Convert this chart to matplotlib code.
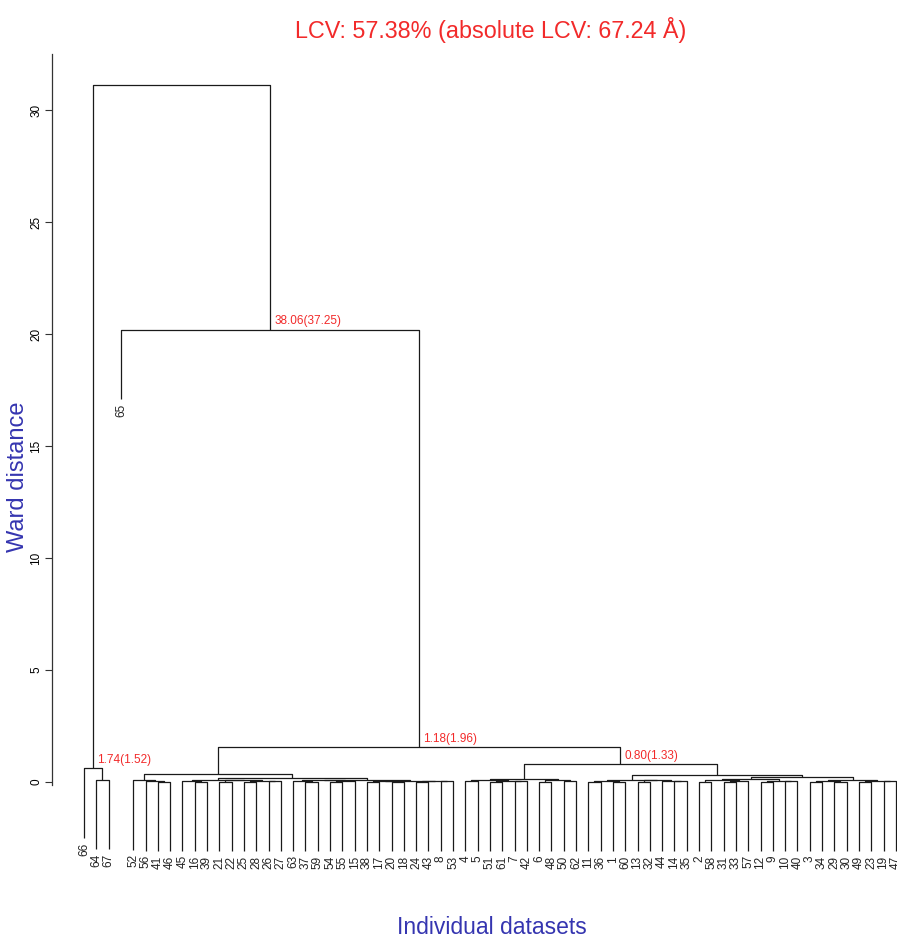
"""Ward dendrogram of 67 individual datasets (LCV annotation), redrawn R plot.hclust style."""
import numpy as np
import matplotlib; matplotlib.use("Agg"); import matplotlib.pyplot as plt

plt.rcParams["font.family"] = ["Liberation Sans", "DejaVu Sans"]

# leaf order along the x axis (dataset numbers)
LEAF_ORDER = [66, 64, 67, 65, 52, 56, 41, 46, 45, 16, 39, 21, 22, 25, 28, 26, 27,
              63, 37, 59, 54, 55, 15, 38, 17, 20, 18, 24, 43, 8, 53,
              4, 5, 51, 61, 7, 42, 6, 48, 50, 62,
              11, 36, 1, 60, 13, 32, 44, 14, 35,
              2, 58, 31, 33, 57, 12, 9, 10, 40, 3, 34, 29, 30, 49, 23, 19, 47]

# R-style merge table: negative = leaf (dataset), positive = earlier merge row (1-based)
MERGE_LEFT = [-64, -66, -41, -56, -52, -16, -45, -21, -25, -26, 9, 8, 7,
              -37, -63, -54, 16, 15, -38, -20, 19, -24, -8, 22, 21, 18, 13, 5,
              -4, -51, -7, 30, 29, -6, -50, 34, 33,
              -11, -1, 38, -13, -14, -44, 41, 40,
              -2, -31, 47, 46, -12, -10, 50, -3, -29, 53, -49, -19, 56, 49, 55, 59,
              45, 37, 28, -65, 2]
MERGE_RIGHT = [-67, 1, -46, 3, 4, -39, 6, -22, -28, -27, 10, 11, 12,
               -59, 14, -55, -15, 17, -17, -18, 20, -43, -53, 23, 24, 25, 26, 27,
               -5, -61, -42, 31, 32, -48, -62, 35, 36,
               -36, -60, 39, -32, -35, 42, 43, 44,
               -58, -33, -57, 48, -9, -40, 51, -34, -30, 54, -23, -47, 57, 52, 58, 60,
               61, 62, 63, 64, 65]
MERGE_HEIGHT = [0.10, 0.62, 0.02, 0.04, 0.09, 0.02, 0.04, 0.01, 0.02, 0.03, 0.05, 0.07, 0.09,
                0.02, 0.04, 0.01, 0.03, 0.07, 0.01, 0.02, 0.04, 0.02, 0.03, 0.05, 0.06, 0.10, 0.16, 0.36,
                0.03, 0.02, 0.03, 0.06, 0.09, 0.02, 0.03, 0.07, 0.15,
                0.02, 0.01, 0.05, 0.02, 0.03, 0.05, 0.07, 0.10,
                0.02, 0.01, 0.04, 0.07, 0.02, 0.03, 0.06, 0.02, 0.01, 0.05, 0.02, 0.03, 0.05, 0.12, 0.09, 0.22,
                0.30, 0.80, 1.56, 20.2, 31.1]

# red annotations on selected merges (row -> text)
NOTE_ROWS = [2, 65, 64, 63]
NOTE_TEXT = ["1.74(1.52)", "38.06(37.25)", "1.18(1.96)", "0.80(1.33)"]

TITLE = "LCV: 57.38% (absolute LCV: 67.24 Å)"
YTICKS = [0, 5, 10, 15, 20, 25, 30]
HANG = 0.1 * max(MERGE_HEIGHT)
BLUE = "#3535b0"; RED = "#f22a2a"; INK = "#1a1a1a"


def main():
    W, H = 897, 940
    fig = plt.figure(figsize=(W / 100, H / 100), dpi=100)
    # axes placed so leaf i sits at 84 + (i-1)*12.3 px and height 0 at y=782 px
    x0, x1 = 1 + (52 - 84) / 12.3, 1 + (897 - 84) / 12.3
    y0, y1 = -6.0, 33.0
    top_px, bot_px = 782 - 22.4 * y1, 782 - 22.4 * y0
    ax = fig.add_axes([52 / W, (H - bot_px) / H, (897 - 52) / W, (bot_px - top_px) / H])
    ax.set_xlim(x0, x1); ax.set_ylim(y0, y1)

    pos = {leaf: i + 1 for i, leaf in enumerate(LEAF_ORDER)}
    nx, nh = {}, {}
    for k, (a, b, h) in enumerate(zip(MERGE_LEFT, MERGE_RIGHT, MERGE_HEIGHT), start=1):
        xs, bottoms = [], []
        for c in (a, b):
            if c < 0:
                xs.append(pos[-c]); bottoms.append(h - HANG)
                ax.text(pos[-c], h - HANG - 0.2, str(-c), rotation=90, ha="center", va="top",
                        fontsize=8.5, color="#222222", clip_on=False)
            else:
                xs.append(nx[c]); bottoms.append(nh[c])
        ax.plot([xs[0], xs[0], xs[1], xs[1]], [bottoms[0], h, h, bottoms[1]],
                color=INK, lw=0.9, solid_capstyle="butt")
        nx[k] = (xs[0] + xs[1]) / 2; nh[k] = h

    for row, txt in zip(NOTE_ROWS, NOTE_TEXT):
        ax.annotate(txt, (nx[row], nh[row]), xytext=(3, 1.5), textcoords="offset points",
                    ha="left", va="bottom", fontsize=8.5, color=RED)

    for s in ["top", "right", "bottom"]:
        ax.spines[s].set_visible(False)
    ax.spines["left"].set_bounds(-0.15, 32.5)
    ax.spines["left"].set_color("#333333"); ax.spines["left"].set_linewidth(0.9)
    ax.set_xticks([])
    ax.set_yticks(YTICKS)
    ax.set_yticklabels([str(t) for t in YTICKS], rotation=90, va="center", fontsize=8.5)
    ax.tick_params(axis="y", length=5, width=0.8, pad=2, color="#333333")

    fig.text(491 / W, 1 - 30 / H, TITLE, ha="center", va="center", fontsize=16.8, color=RED)
    fig.text(18 / W, 1 - 477 / H, "Ward distance", rotation=90, ha="center", va="center",
             fontsize=17, color=BLUE)
    fig.text(492 / W, 1 - 928 / H, "Individual datasets", ha="center", va="center",
             fontsize=16.5, color=BLUE)
    fig.savefig("out.png", dpi=100)


if __name__ == "__main__":
    main()
